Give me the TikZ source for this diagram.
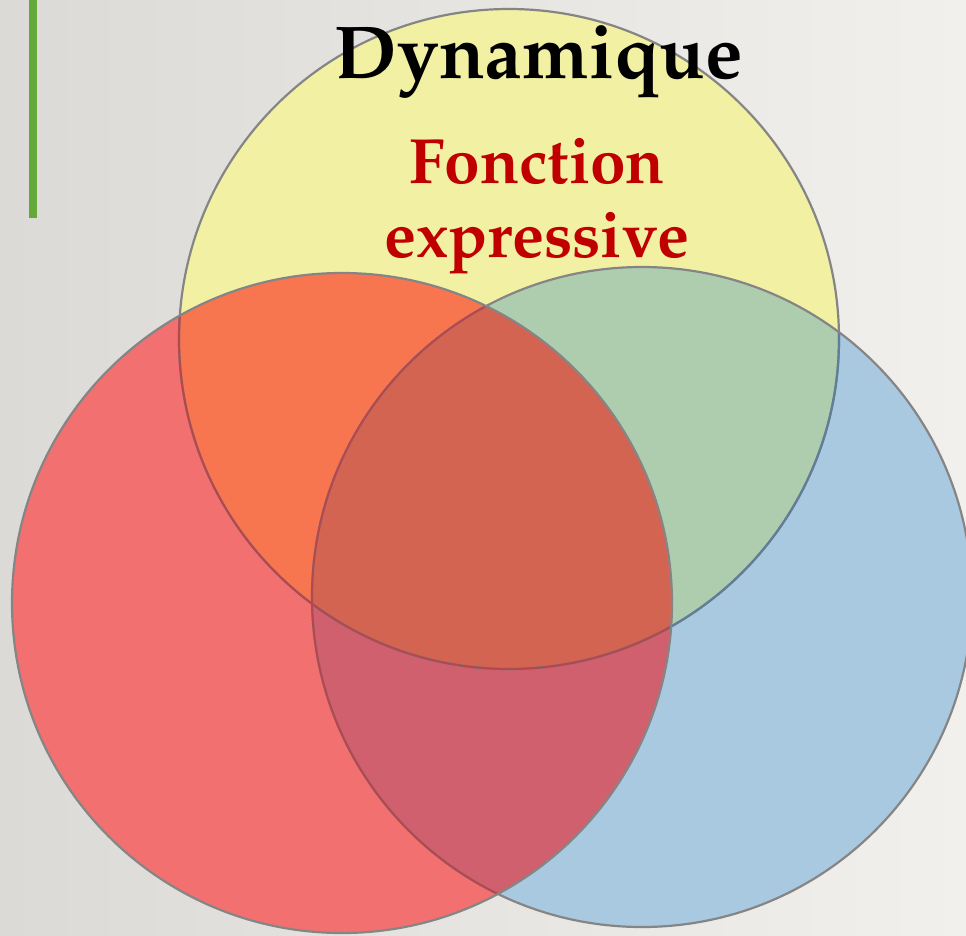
\documentclass[tikz,border=0pt]{standalone}
\IfFileExists{mathpazo.sty}{\usepackage[T1]{fontenc}\usepackage{mathpazo}}{\usepackage{fontspec}\setmainfont{Liberation Serif}}
\definecolor{fondg}{RGB}{219,218,215}
\definecolor{fondd}{RGB}{241,240,237}
\definecolor{barre}{RGB}{100,170,58}
\definecolor{jaune}{RGB}{242,240,162}
\definecolor{bleu}{RGB}{169,201,224}
\definecolor{rouge}{RGB}{242,112,112}
\definecolor{vert}{RGB}{174,205,175}
\definecolor{orangej}{RGB}{247,118,80}
\definecolor{rosebleu}{RGB}{208,96,110}
\definecolor{centre}{RGB}{212,100,82}
\definecolor{traitbleu}{RGB}{96,126,152}
\definecolor{traitrouge}{RGB}{176,74,80}
\definecolor{rougefonce}{RGB}{192,0,0}
\newcommand{\cJ}{(509,339) circle[radius=330]}
\newcommand{\cB}{(642,597) circle[radius=330]}
\newcommand{\cR}{(342,603) circle[radius=330]}
\begin{document}
\begin{tikzpicture}[line cap=round,line join=round,x=1pt,y=-1pt,
		trait/.style={line width=2.2pt}]
	\useasboundingbox (0,0) rectangle (966,935);
	\shade[left color=fondg,right color=fondd] (0,0) rectangle (966,935);
	\fill[barre] (29,0) rectangle (37,218);
	% les trois cercles
	\fill[jaune] \cJ;
	\fill[bleu] \cB;
	\fill[rouge] \cR;
	% les intersections
	\begin{scope}
		\clip \cB;
		\fill[rosebleu] \cR;
	\end{scope}
	\begin{scope}
		\clip \cJ;
		\fill[vert] \cB;
		\fill[orangej] \cR;
		\clip \cB;
		\fill[centre] \cR;
	\end{scope}
	% les contours
	\draw[trait,black!48] \cJ;
	\begin{scope}
		\clip \cB;
		\draw[trait,traitbleu] \cJ;
	\end{scope}
	\draw[trait,black!48] \cB;
	\begin{scope}
		\clip \cR;
		\draw[trait,traitrouge] \cJ;
		\draw[trait,traitrouge] \cB;
	\end{scope}
	\draw[trait,black!48] \cR;
	% textes
	\node[anchor=base,inner sep=0pt] (titre) at (539,78) {\fontsize{75}{90}\selectfont\bfseries Dynamique};
	\node[anchor=base,inner sep=0pt,text=rougefonce] (fonction) at (537,183) {\fontsize{64}{76}\selectfont\bfseries Fonction};
	\node[anchor=base,inner sep=0pt,text=rougefonce] (expressive) at (537,257) {\fontsize{64}{76}\selectfont\bfseries expressive};
\end{tikzpicture}
\end{document}
